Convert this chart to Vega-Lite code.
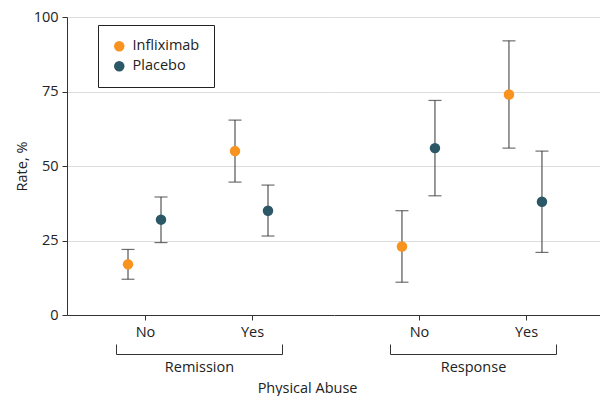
{
  "$schema": "https://vega.github.io/schema/vega-lite/v6.json",
  "padding": {"left": 14, "top": 9, "right": 0, "bottom": 0},
  "bounds": "flush",
  "config": {
    "font": "Open Sans",
    "view": {"stroke": null},
    "axis": {"labelFontSize": 14.5, "labelColor": "#222", "titleFontSize": 14.5, "titleFontWeight": "normal", "titleColor": "#222", "domainColor": "#333", "tickColor": "#333", "gridColor": "#dddddd"},
    "title": {"fontSize": 14.5, "fontWeight": "normal", "color": "#222"},
    "legend": {"orient": "none", "legendX": 31, "legendY": 8, "fillColor": "white", "strokeColor": "#222", "padding": 14, "labelFontSize": 14.5, "labelColor": "#222", "rowPadding": 5, "symbolSize": 110, "labelOffset": 6, "title": null}
  },
  "title": {"text": "Physical Abuse", "orient": "bottom", "anchor": "middle", "offset": 8},
  "data": {"values": [
    {"outcome": "Remission", "abuse": "No", "treatment": "Infliximab", "rate": 17, "lo": 12, "hi": 22},
    {"outcome": "Remission", "abuse": "No", "treatment": "Placebo", "rate": 32, "lo": 24.3, "hi": 39.6},
    {"outcome": "Remission", "abuse": "Yes", "treatment": "Infliximab", "rate": 55, "lo": 44.6, "hi": 65.4},
    {"outcome": "Remission", "abuse": "Yes", "treatment": "Placebo", "rate": 35, "lo": 26.5, "hi": 43.6},
    {"outcome": "Response", "abuse": "No", "treatment": "Infliximab", "rate": 23, "lo": 11, "hi": 35},
    {"outcome": "Response", "abuse": "No", "treatment": "Placebo", "rate": 56, "lo": 40, "hi": 72},
    {"outcome": "Response", "abuse": "Yes", "treatment": "Infliximab", "rate": 74, "lo": 56, "hi": 92},
    {"outcome": "Response", "abuse": "Yes", "treatment": "Placebo", "rate": 38, "lo": 21, "hi": 55}
  ]},
  "spacing": 0,
  "hconcat": [
    {
      "width": 267,
      "height": 298,
      "transform": [{"filter": "datum.outcome === 'Remission'"}],
      "layer": [
        {
          "encoding": {
            "x": {"field": "abuse", "type": "nominal", "scale": {"type": "point", "padding": 0.7477, "align": 0.4875},
                  "axis": {"orient": "bottom", "title": null, "labelAngle": 0, "grid": false, "tickSize": 5, "labelPadding": 5}},
            "xOffset": {"field": "treatment", "type": "nominal", "scale": {"type": "point", "range": [-17, 16], "padding": 0}}
          },
          "layer": [
            {"mark": {"type": "rule", "color": "#555", "strokeWidth": 1.2},
             "encoding": {"y": {"field": "lo", "type": "quantitative", "scale": {"domain": [0, 100]},
                                "axis": {"title": "Rate, %", "values": [0, 25, 50, 75, 100], "tickSize": 5, "labelPadding": 4, "titlePadding": 4, "grid": true}},
                          "y2": {"field": "hi"}}},
            {"mark": {"type": "tick", "orient": "horizontal", "size": 13, "thickness": 1.2, "color": "#333"},
             "encoding": {"y": {"field": "lo", "type": "quantitative"}}},
            {"mark": {"type": "tick", "orient": "horizontal", "size": 13, "thickness": 1.2, "color": "#333"},
             "encoding": {"y": {"field": "hi", "type": "quantitative"}}},
            {"mark": {"type": "circle", "size": 110, "opacity": 1},
             "encoding": {"y": {"field": "rate", "type": "quantitative"},
                          "color": {"field": "treatment", "type": "nominal", "scale": {"range": ["#F7931E", "#2B5766"]}}}}
          ]
        },
        {
          "mark": {"type": "point", "opacity": 0},
          "encoding": {
            "x": {"field": "abuse", "type": "nominal", "scale": {"type": "point", "range": [49, 215], "padding": 0},
                  "axis": {"orient": "bottom", "title": "Remission", "titlePadding": 6, "labels": false, "grid": false, "tickSize": -10, "offset": 39}}
          }
        }
      ],
      "resolve": {"scale": {"x": "independent"}, "axis": {"x": "independent"}}
    },
    {
      "width": 267,
      "height": 298,
      "transform": [{"filter": "datum.outcome === 'Response'"}],
      "layer": [
        {
          "encoding": {
            "x": {"field": "abuse", "type": "nominal", "scale": {"type": "point", "padding": 0.7477, "align": 0.531},
                  "axis": {"orient": "bottom", "title": null, "labelAngle": 0, "grid": false, "tickSize": 5, "labelPadding": 5}},
            "xOffset": {"field": "treatment", "type": "nominal", "scale": {"type": "point", "range": [-17, 16], "padding": 0}}
          },
          "layer": [
            {"mark": {"type": "rule", "color": "#555", "strokeWidth": 1.2},
             "encoding": {"y": {"field": "lo", "type": "quantitative", "scale": {"domain": [0, 100]},
                                "axis": {"title": null, "values": [0, 25, 50, 75, 100], "labels": false, "ticks": false, "domain": false, "grid": true}},
                          "y2": {"field": "hi"}}},
            {"mark": {"type": "tick", "orient": "horizontal", "size": 13, "thickness": 1.2, "color": "#333"},
             "encoding": {"y": {"field": "lo", "type": "quantitative"}}},
            {"mark": {"type": "tick", "orient": "horizontal", "size": 13, "thickness": 1.2, "color": "#333"},
             "encoding": {"y": {"field": "hi", "type": "quantitative"}}},
            {"mark": {"type": "circle", "size": 110, "opacity": 1},
             "encoding": {"y": {"field": "rate", "type": "quantitative"},
                          "color": {"field": "treatment", "type": "nominal", "scale": {"range": ["#F7931E", "#2B5766"]}}}}
          ]
        },
        {
          "mark": {"type": "point", "opacity": 0},
          "encoding": {
            "x": {"field": "abuse", "type": "nominal", "scale": {"type": "point", "range": [56, 222], "padding": 0},
                  "axis": {"orient": "bottom", "title": "Response", "titlePadding": 6, "labels": false, "grid": false, "tickSize": -10, "offset": 39}}
          }
        }
      ],
      "resolve": {"scale": {"x": "independent"}, "axis": {"x": "independent"}}
    }
  ]
}
